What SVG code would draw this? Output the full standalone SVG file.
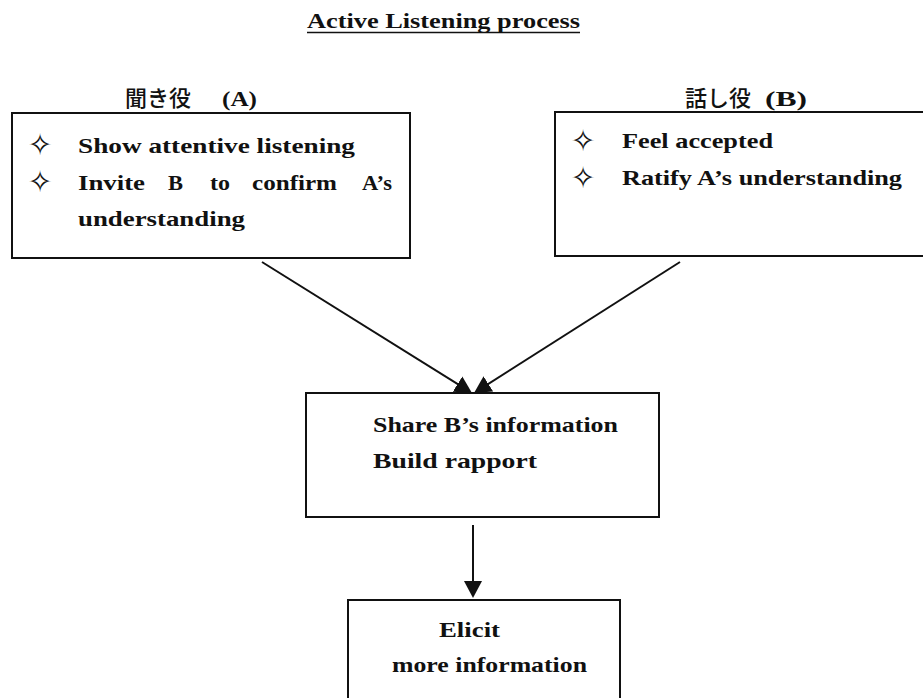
<svg xmlns="http://www.w3.org/2000/svg" width="923" height="698" viewBox="0 0 923 698">
<style>
  .t { font-family: "Liberation Serif", "DejaVu Serif", serif; font-weight: bold; font-size: 22px; fill: #111; }
  .j { font-family: "Noto Sans CJK JP", "Noto Sans CJK SC", sans-serif; font-weight: 500; font-size: 22px; fill: #111; }
  .b { font-family: "DejaVu Sans", sans-serif; font-size: 30px; fill: #111; text-anchor: middle; }
  .box { fill: none; stroke: #111; stroke-width: 2; }
  .conn { fill: none; stroke: #111; stroke-width: 2; }
</style>
<defs>
  <marker id="ah" markerUnits="userSpaceOnUse" markerWidth="18" markerHeight="18" refX="13" refY="9" orient="auto">
    <path d="M0,0 L17,9 L0,18 z" fill="#111"/>
  </marker>
</defs>
<rect width="923" height="698" fill="#fff"/>

<g id="title">
  <text class="t" x="307" y="28" textLength="273" lengthAdjust="spacingAndGlyphs">Active Listening process</text>
  <line x1="307" y1="32.5" x2="580" y2="32.5" stroke="#111" stroke-width="1.5"/>
</g>

<g id="nodeA">
  <text y="106"><tspan class="j" x="125">聞き役</tspan><tspan class="t" x="222" textLength="35" lengthAdjust="spacingAndGlyphs">(A)</tspan></text>
  <rect class="box" x="12" y="113" width="398" height="145"/>
  <text class="b" x="40" y="155">✧</text>
  <text class="t" x="78" y="153" textLength="277" lengthAdjust="spacingAndGlyphs">Show attentive listening</text>
  <text class="b" x="40" y="192">✧</text>
  <text class="t" y="190"><tspan x="78" textLength="67" lengthAdjust="spacingAndGlyphs">Invite</tspan><tspan x="168" textLength="15" lengthAdjust="spacingAndGlyphs">B</tspan><tspan x="210" textLength="20" lengthAdjust="spacingAndGlyphs">to</tspan><tspan x="252" textLength="85" lengthAdjust="spacingAndGlyphs">confirm</tspan><tspan x="362" textLength="30" lengthAdjust="spacingAndGlyphs">A’s</tspan></text>
  <text class="t" x="78" y="226" textLength="167" lengthAdjust="spacingAndGlyphs">understanding</text>
</g>

<g id="nodeB">
  <text y="106"><tspan class="j" x="685">話し役</tspan><tspan class="t" x="765" textLength="42" lengthAdjust="spacingAndGlyphs">(B)</tspan></text>
  <rect class="box" x="555" y="112" width="380" height="144"/>
  <text class="b" x="583" y="151">✧</text>
  <text class="t" x="622" y="148" textLength="151" lengthAdjust="spacingAndGlyphs">Feel accepted</text>
  <text class="b" x="583" y="188">✧</text>
  <text class="t" x="622" y="185" textLength="280" lengthAdjust="spacingAndGlyphs">Ratify A’s understanding</text>
</g>

<g id="nodeShare">
  <rect class="box" x="306" y="393" width="353" height="124"/>
  <text class="t" x="373" y="432" textLength="245" lengthAdjust="spacingAndGlyphs">Share B’s information</text>
  <text class="t" x="373" y="468" textLength="164" lengthAdjust="spacingAndGlyphs">Build rapport</text>
</g>

<g id="nodeElicit">
  <rect class="box" x="348" y="600" width="272" height="110"/>
  <text class="t" x="439" y="637" textLength="61" lengthAdjust="spacingAndGlyphs">Elicit</text>
  <text class="t" x="392" y="672" textLength="195" lengthAdjust="spacingAndGlyphs">more information</text>
</g>

<g id="connectors">
  <line class="conn" x1="262" y1="262" x2="468.6" y2="390.9" marker-end="url(#ah)"/>
  <line class="conn" x1="680" y1="262" x2="477.4" y2="390.9" marker-end="url(#ah)"/>
  <line class="conn" x1="473" y1="525" x2="473" y2="594" marker-end="url(#ah)"/>
</g>
</svg>
